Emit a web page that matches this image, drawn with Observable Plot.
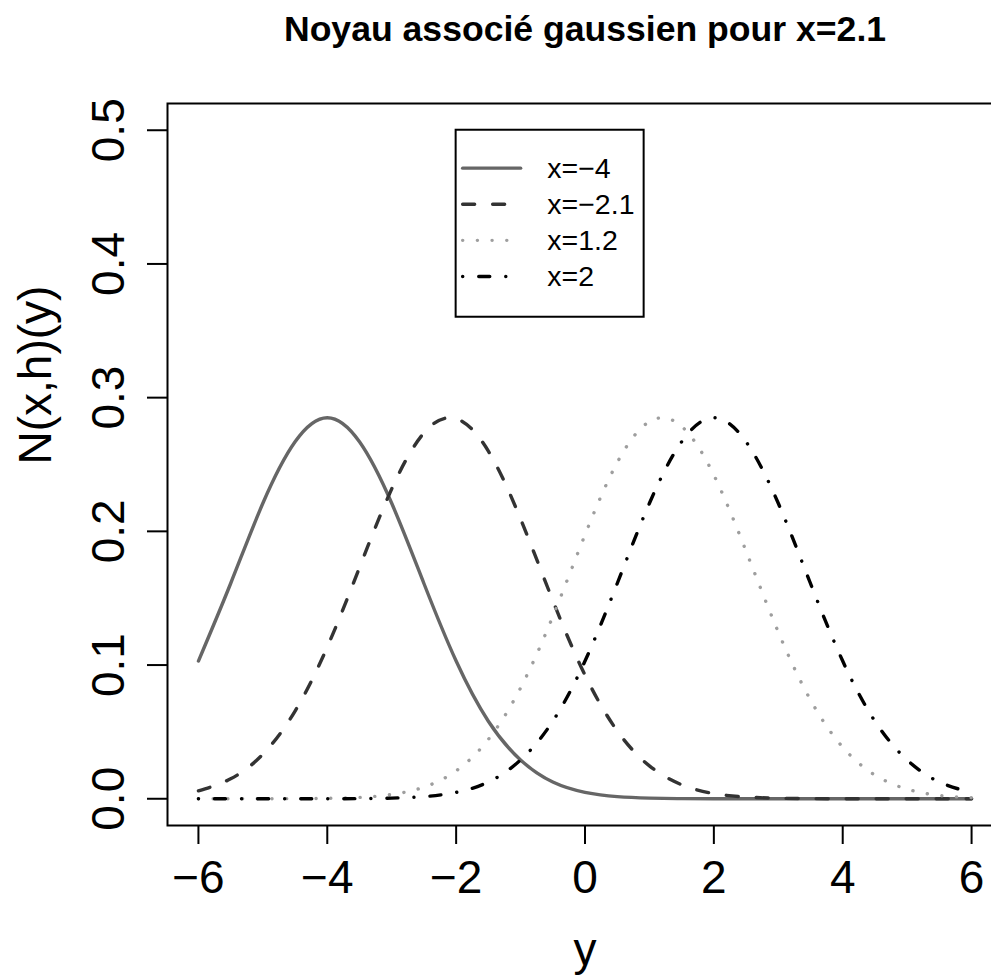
<!DOCTYPE html>
<html><head><meta charset="utf-8">
<script src="https://cdn.jsdelivr.net/npm/d3@7"></script>
<script src="https://cdn.jsdelivr.net/npm/@observablehq/plot@0.6"></script>
<style>body{margin:0;background:#fff} #chart svg{display:block}</style>
</head><body><div id="chart"></div>
<script>
// ---- data ----
const yGrid = [-6,-5.5,-5,-4.5,-4,-3.5,-3,-2.5,-2,-1.5,-1,-0.5,0,0.5,1,1.5,2,2.5,3,3.5,4,4.5,5,5.5,6];
const kM4  = [0.103,0.161,0.221,0.267,0.285,0.267,0.221,0.161,0.103,0.058,0.029,0.0125,0.0048,0.0016,0.0005,0.0001,0,0,0,0,0,0,0,0,0];
const kM21 = [0.0059,0.0149,0.0333,0.0656,0.1135,0.1729,0.2318,0.2736,0.2843,0.2600,0.2093,0.1483,0.0925,0.0508,0.0246,0.0105,0.0039,0.0013,0.0004,0.0001,0,0,0,0,0];
const k12  = [0,0,0,0.0001,0.0003,0.0010,0.0032,0.0087,0.0209,0.0444,0.0829,0.1363,0.1974,0.2515,0.2821,0.2785,0.2421,0.1852,0.1247,0.0739,0.0386,0.0177,0.0072,0.0025,0.0008];
const k2   = [0,0,0,0,0,0.0001,0.0005,0.0016,0.0048,0.0125,0.029,0.058,0.103,0.161,0.221,0.267,0.285,0.267,0.221,0.161,0.103,0.058,0.029,0.0125,0.0048];
const seriesLabels = ["x=\u22124", "x=\u22122.1", "x=1.2", "x=2"];
const seriesValues = [kM4, kM21, k12, k2];
const xTicks = [-6, -4, -2, 0, 2, 4, 6];
const yTicks = [0, 0.1, 0.2, 0.3, 0.4, 0.5];
const titleText = "Noyau associé gaussien pour x=2.1";
const xLabel = "y";
const yLabel = "N(x,h)(y)";
const legendAt = {x: -2, y: 0.5};

// ---- styles ----
const seriesStyles = [
  {stroke: "#666666", dash: null},
  {stroke: "#333333", dash: "12,18"},
  {stroke: "#9e9e9e", dash: "0.1,14.6"},
  {stroke: "#000000", dash: "0.1,16,11,16"}
];
const font = "'Liberation Sans', Arial, Helvetica, sans-serif";
const lw = 3.4;

const rows = yGrid.flatMap((y, i) => seriesLabels.map((s, j) => ({y, v: seriesValues[j][i], s})));

const lines = seriesLabels.map((s, j) => Plot.line(rows.filter(d => d.s === s), {
  x: "y", y: "v", stroke: seriesStyles[j].stroke, strokeWidth: lw,
  strokeDasharray: seriesStyles[j].dash, strokeLinecap: "round", strokeLinejoin: "round",
  curve: "natural"
}));

const chart = Plot.plot({
  width: 991, height: 979,
  marginLeft: 167, marginRight: -11, marginTop: 103, marginBottom: 154,
  style: {fontFamily: font, background: "white", color: "black"},
  x: {domain: [-6.48, 6.48]},
  y: {domain: [-0.02, 0.52]},
  marks: [
    ...lines,
    Plot.frame({stroke: "black", strokeWidth: 2}),
    Plot.axisX(xTicks, {tickSize: 19, tickPadding: 16, fontSize: 46, strokeWidth: 2, label: null, tickFormat: d3.format("d")}),
    Plot.axisY(yTicks, {tickSize: 20, tickPadding: 24, fontSize: 46, tickRotate: -90, strokeWidth: 2, label: null, tickFormat: d3.format(".1f")}),
    Plot.text([titleText], {text: d => d, frameAnchor: "top", dy: -63, fontSize: 35.6, fontWeight: "bold", lineAnchor: "bottom"}),
    Plot.text([xLabel], {text: d => d, frameAnchor: "bottom", dy: 139, fontSize: 46, lineAnchor: "bottom"}),
    Plot.text([yLabel], {text: d => d, frameAnchor: "left", dx: -117, rotate: -90, fontSize: 46, lineAnchor: "bottom"})
  ]
});

// ---- legend placed at data coords (-2, 0.5) like R's legend() ----
const sx = chart.scale("x"), sy = chart.scale("y");
const L = sx.apply(legendAt.x), T = sy.apply(legendAt.y);
const g = d3.select(chart).append("g").attr("font-family", font).attr("text-anchor", "start");
g.append("rect").attr("x", L).attr("y", T).attr("width", 188).attr("height", 187)
  .attr("fill", "none").attr("stroke", "black").attr("stroke-width", 2);
seriesLabels.forEach((s, j) => {
  const ry = T + 38.4 + j * 36.1;
  g.append("line").attr("x1", L + 7).attr("x2", L + 65).attr("y1", ry).attr("y2", ry)
    .attr("stroke", seriesStyles[j].stroke).attr("stroke-width", lw)
    .attr("stroke-linecap", "round")
    .attr("stroke-dasharray", seriesStyles[j].dash);
  g.append("text").attr("x", L + 91.7).attr("y", ry + 10).attr("font-size", 28.5)
    .attr("text-anchor", "start").attr("fill", "black").text(s);
});

document.getElementById("chart").appendChild(chart);
</script>
</body></html>
